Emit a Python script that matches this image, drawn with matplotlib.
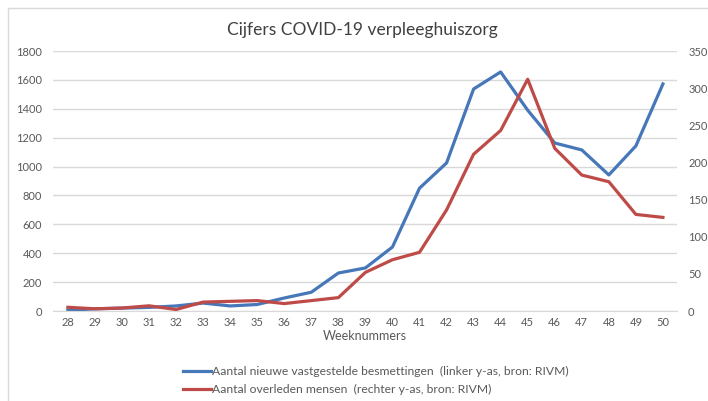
import matplotlib
matplotlib.use("Agg")
import matplotlib.pyplot as plt
from matplotlib.patches import Rectangle

plt.rcParams['font.family'] = ['Lato', 'DejaVu Sans']

weeks = list(range(28, 51))
besmettingen = [5, 15, 20, 25, 35, 55, 35, 45, 90, 130, 263, 298, 443, 850,
                1025, 1537, 1655, 1390, 1163, 1115, 942, 1143, 1572]
overleden = [5, 3, 4, 7, 2, 12, 13, 14, 10, 14, 18, 52, 69, 79,
             136, 211, 243, 312, 219, 183, 174, 130, 126]
left_ticks = list(range(0, 2000, 200))
right_ticks = list(range(0, 400, 50))

blue = "#4677B8"
red = "#BE4B48"
grey = "#595959"

fig = plt.figure(figsize=(7.08, 4.01), dpi=100)
fig.patches.append(Rectangle((8/708, -0.1), 1.0, 1 - 8/401 + 0.1, transform=fig.transFigure,
                             fill=False, edgecolor="#d9d9d9", linewidth=1.0))

ax = fig.add_axes([53/708, 1 - 311/401, 624/708, 260/401])
ax2 = ax.twinx()

ax.plot(weeks, besmettingen, color=blue, linewidth=2.3, label="Aantal nieuwe vastgestelde besmettingen  (linker y-as, bron: RIVM)")
ax2.plot(weeks, overleden, color=red, linewidth=2.3, label="Aantal overleden mensen  (rechter y-as, bron: RIVM)")

ax.set_ylim(0, 1800)
ax2.set_ylim(0, 350)
ax.set_xlim(27.45, 50.52)
ax.set_yticks(left_ticks)
ax2.set_yticks(right_ticks)
ax.set_xticks(weeks)
ax.grid(axis="y", color="#d9d9d9", linewidth=1.0)
ax.set_axisbelow(True)

for a in (ax, ax2):
    for s in a.spines.values():
        s.set_visible(False)
    a.tick_params(length=0, labelsize=8, labelcolor=grey)
ax.spines["bottom"].set_visible(True)
ax.spines["bottom"].set_color("#d9d9d9")
ax.tick_params(axis="y", pad=8)
ax2.tick_params(axis="y", pad=8)
ax.tick_params(axis="x", pad=4)

ax.set_xlabel("Weeknummers", fontsize=9, color=grey, labelpad=2)
fig.text(362/708, 1 - 30/401, "Cijfers COVID-19 verpleeghuiszorg", ha="center", va="center",
         fontsize=12.5, color="#404040")

h1, l1 = ax.get_legend_handles_labels()
h2, l2 = ax2.get_legend_handles_labels()
fig.legend(h1 + h2, l1 + l2, loc="upper left", bbox_to_anchor=(172/708, 1 - 355/401),
           frameon=False, fontsize=8.7, labelcolor=grey, handlelength=2.3, handletextpad=0.1,
           labelspacing=0.6)

fig.savefig("out.png", dpi=100)
